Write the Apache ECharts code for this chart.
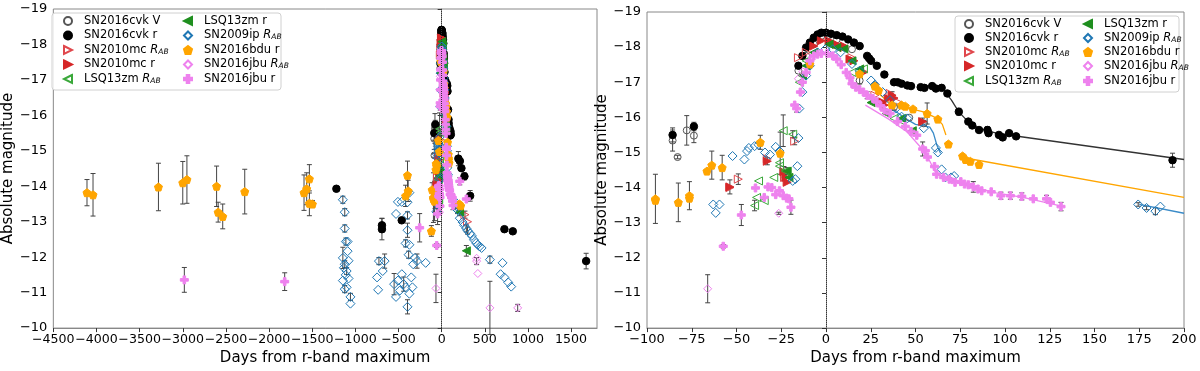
<!DOCTYPE html>
<html>
<head>
<meta charset="utf-8">
<script src="https://cdn.jsdelivr.net/npm/echarts@6/dist/echarts.min.js"></script>
<style>html,body{margin:0;padding:0;background:#fff}#main{width:1200px;height:371px}</style>
</head>
<body>
<div id="main"></div>
<script>
// 数据格式: [距 r 波段极大的天数, 绝对星等, 误差]
var cvkV = [[-85.7,-15.34,0.3],[-82.9,-14.87,0.05],[-77.8,-15.63,0.42],[-73.8,-15.48,0.2],
	[-15.4,-17.33,0],[-11.1,-17.75,0],[-6.8,-18.08,0],[-2.6,-18.32,0],[1.7,-18.34,0],[6,-18.22,0],
	[14.5,-17.94,0],[18.8,-17.05,0.1],[27.3,-16.91,0],[38,-16.3,0.1],[46.5,-15.99,0],[54.6,-15.83,0]];
var cvkR = [[-1220,-13.93,0.05],[-692,-12.9,0.2],[-692,-12.79,0.3],[-463,-13.04,0.05],
	[-85.7,-15.5,0.2],[-73.8,-15.74,0.12],
	[-15.4,-17.47,0],[-13.2,-17.75,0],[-11.1,-17.99,0],[-9,-18.13,0],[-6.8,-18.27,0],[-4.7,-18.36,0],
	[-2.6,-18.41,0],[0,-18.41,0],[2.8,-18.38,0],[6,-18.34,0],[9.2,-18.3,0],[12.4,-18.22,0],[15.6,-18.13,0],
	[18.8,-18.03,0],[23,-17.75,0],[24.1,-17.68,0],[25.2,-17.61,0],[28.4,-17.47,0],[32.6,-17.22,0],
	[38,-17.0,0.05],[40,-17.0,0.05],[42.2,-16.96,0.05],[45.4,-16.91,0],[47.5,-16.89,0],[52.9,-16.86,0],
	[55,-16.84,0],[59.3,-16.89,0],[61.4,-16.82,0],[64.6,-16.84,0],[67.8,-16.68,0],[74.2,-16.16,0.1],
	[79.5,-15.88,0],[81.7,-15.77,0],[85.5,-15.64,0],[90.2,-15.64,0.1],[90.8,-15.55,0],[96.6,-15.5,0],
	[98.7,-15.43,0],[102.3,-15.55,0],[106.2,-15.46,0],[193.6,-14.78,0.2],
	[211,-14.71,0],[229,-14.51,0],[264,-14.28,0.1],[330,-13.73,0.15],[727,-12.79,0],[824,-12.73,0],[1674,-11.89,0.22]];
var mcRAB = [[-53.7,-14.0,0],[-49,-14.24,0.15],[-32.8,-14.82,0],[-17.5,-15.32,0.1],[-23.2,-14.29,0],
	[-15.4,-17.7,0],[-11,-17.85,0],[3.8,-18.13,0],[10.2,-17.99,0],[14.5,-17.7,0],[20.9,-17.3,0],
	[27.3,-16.63,0],[35.8,-16.68,0],[40,-16.44,0],[270,-13.2,0.1],[300,-13.0,0]];
var mcR = [[-53.7,-14.02,0.2],[-32.8,-14.75,0.1],[-23.5,-14.45,0.15],[-22.4,-14.29,0.1],[-21.7,-14.15,0],
	[-6.8,-18.03,0],[-2.6,-18.18,0],[1.7,-18.18,0],[6,-18.08,0],[10.2,-18.03,0],[13.4,-17.66,0],
	[15.6,-17.61,0],[20.9,-17.28,0],[31.6,-16.44,0],[32.6,-16.35,0.1],[34.8,-16.54,0],[36.9,-16.63,0.1],
	[38,-16.55,0],[54,-15.88,0.1]];
var lsqRAB = [[-39.9,-13.49,0.15],[-38.8,-13.72,0],[-37.7,-14.19,0],[-34.5,-13.63,0],[-29.2,-14.29,0],
	[-26,-14.61,0],[-26,-14.71,0],[-23.9,-15.62,0.45],[-22.8,-14.47,0],[-18.6,-15.52,0.1],
	[-14.9,-17.0,0],[-13.2,-17.19,0],[-11.1,-17.61,0],[14.5,-17.28,0],[20.9,-17.38,0],[38,-15.97,0],[42,-15.9,0]];
var lsqR = [[-21.7,-14.47,0.1],[-20.7,-14.29,0],[-13.2,-17.19,0],[-11.1,-17.47,0],[-6.8,-17.85,0],
	[1.7,-18.08,0],[6,-17.99,0],[10,-17.95,0],[14.5,-17.61,0],[18.8,-17.38,0],[25.2,-16.42,0],
	[33.7,-16.11,0],[42.2,-15.97,0],[48.2,-15.62,0],[207,-13.27,0.1],[286,-12.18,0.15]];
var ipRAB = [[-1145,-13.62,0.1],[-1123,-13.27,0.1],[-1123,-12.81,0.1],[-1110,-12.44,0.1],[-1090,-12.44,0],
	[-1090,-12.17,0],[-1145,-11.98,0.3],[-1079,-11.9,0],[-1123,-11.8,0.1],[-1101,-11.61,0.1],[-1112,-11.5,0],
	[-1145,-11.34,0],[-1079,-11.4,0],[-1123,-11.1,0.1],[-1101,-11.15,0],[-1057,-10.88,0.1],[-1057,-10.69,0],
	[-1133,-11.7,0],[-749,-11.43,0],[-736,-11.08,0],[-727,-11.89,0.1],[-661,-11.89,0.2],[-683,-11.61,0],
	[-529,-13.22,0],[-507,-13.56,0],[-463,-13.56,0],[-396,-13.18,0.1],[-396,-12.76,0.2],[-418,-12.39,0.1],
	[-374,-12.35,0],[-383,-12.07,0.1],[-551,-11.24,0.3],[-529,-10.88,0],[-485,-11.06,0],[-440,-11.24,0.2],
	[-396,-10.6,0.2],[-374,-10.97,0],[-339,-11.15,0],[-330,-11.8,0],[-308,-11.98,0],[-286,-11.89,0.2],
	[-352,-11.43,0],[-462,-11.52,0],[-418,-11.15,0],[-507,-11.34,0],[-374,-13.82,0],[-396,-13.55,0],[-185,-11.84,0],
	[-61.6,-13.28,0],[-59.5,-13.52,0],[-63,-13.52,0],[-52.2,-14.9,0],[-45.6,-14.8,0],[-44.1,-15.04,0],
	[-43.1,-15.13,0],[-39.9,-15.18,0],[-37.7,-15.22,0],[-34.1,-15.0,0],[-31.3,-14.94,0],[-28.1,-15.16,0],
	[-26,-15.04,0],[-18.6,-14.19,0],[-16,-14.61,0],[-15.4,-15.41,0],[-17.1,-14.24,0],[-14.9,-16.25,0],
	[-13.2,-16.72,0],[-11.1,-17.19,0],[-9,-17.47,0],[-4.7,-17.85,0],[-0.4,-17.94,0],[3.8,-17.94,0],
	[8.1,-17.85,0],[14.5,-17.52,0],[18.8,-17.33,0],[25.2,-17.05,0],[27.3,-16.93,0],[31.6,-16.72,0],
	[35.8,-16.49,0],[39,-16.25,0],[42.2,-16.02,0],[45.4,-15.97,0],[54.6,-15.69,0],[61.4,-15.13,0],
	[62.5,-15.0,0],[64.6,-14.52,0],[66.7,-14.29,0],[69.9,-14.29,0],[71.6,-14.33,0],
	[174.4,-13.52,0.05],[179.1,-13.42,0.05],[184,-13.33,0.1],[186.8,-13.46,0],
	[210,-13.1,0],[242,-12.99,0],[260,-12.9,0],[286,-12.81,0.1],[300,-12.75,0.1],[330,-12.67,0],
	[350,-12.6,0],[374,-12.49,0],[400,-12.4,0],[419,-12.35,0],[440,-12.3,0],[463,-12.26,0],[559,-11.93,0.1],
	[705,-11.84,0],[683,-11.52,0],[727,-11.43,0],[771,-11.29,0],[806,-11.17,0]];
var bduR = [[-4110,-13.82,0.37],[-4040,-13.76,0.6],[-3282,-13.98,0.67],[-3000,-14.1,0.6],[-2952,-14.19,0.67],
	[-2608,-14.0,0.57],[-2590,-13.27,0.28],[-2537,-13.15,0.35],[-2282,-13.85,0.63],[-1595,-13.82,0.5],
	[-1564,-13.93,0.45],[-1533,-14.21,0.4],[-1533,-13.52,0.35],[-1498,-13.5,0.1],[-396,-14.31,0.4],
	[-418,-13.73,0.3],[-388,-13.87,0.3],[-119,-12.74,0.15],[-110,-13.9,0.2],
	[-95.3,-13.68,0.7],[-95.3,-13.64,0],[-82.5,-13.58,0.55],[-76.3,-13.77,0.4],[-76.3,-13.7,0],
	[-66.5,-14.47,0.05],[-63.8,-14.64,0.4],[-58,-14.57,0.35],[-36.7,-15.29,0.2],[-25.6,-14.98,0.6],
	[-9,-17.52,0],[18.8,-17.24,0],[27.3,-16.89,0],[29.4,-16.77,0],[36.9,-16.35,0],[42.2,-16.35,0],
	[44.3,-16.32,0],[48.6,-16.24,0],[56.5,-16.11,0.3],[62.5,-15.95,0],[68.4,-15.24,0],[76.3,-14.9,0],
	[78,-14.8,0],[80.6,-14.75,0],[85.5,-14.66,0.05],[205,-13.5,0],[220,-13.45,0]];
var jbuRAB = [[-66.1,-11.12,0.4],[-26.4,-13.27,0.03],[-15.4,-17.1,0],[-13,-17.3,0],
	[405,-11.89,0.1],[405,-11.97,0],[419,-11.54,0],[559,-10.57,0.75],[881,-10.57,0.1]];
var jbuR = [[-2982,-11.36,0.35],[-1819,-11.31,0.25],[-255,-12.83,0.4],
	[-57.4,-12.33,0.05],[-47.3,-13.22,0.3],[-39.4,-13.99,0],[-34.5,-13.72,0],[-32.4,-14.02,0],
	[-30.3,-14.0,0],[-28.1,-13.8,0],[-26,-13.91,0],[-23.9,-13.77,0],[-22,-13.7,0],[-20.7,-13.68,0],
	[-19.6,-13.44,0.2],[-17.5,-16.35,0],[-16.4,-16.25,0.1],[-14.3,-16.72,0],[-13.2,-17.0,0],[-11.1,-17.28,0],
	[-9,-17.61,0],[-6.8,-17.75,0],[-4.7,-17.8,0],[-2.6,-17.82,0],[0.6,-17.82,0],[3.8,-17.75,0],[6,-17.66,0],
	[8.5,-17.5,0],[11.3,-17.28,0],[13.4,-17.13,0],[14.5,-16.96,0],[16.6,-16.86,0],[18.8,-16.79,0],
	[20.9,-16.72,0],[23,-16.63,0.1],[26.2,-16.54,0],[28.4,-16.44,0],[30.5,-16.33,0],[32.6,-16.21,0],
	[35.8,-16.11,0],[40,-15.88,0],[44.3,-15.74,0],[47.5,-15.6,0],[50.7,-15.49,0],[54,-15.1,0.2],
	[55.5,-15.05,0],[56.7,-14.87,0],[60.6,-14.6,0],[61.8,-14.38,0],[65.7,-14.29,0],[68.9,-14.24,0],
	[72.1,-14.15,0],[75.3,-14.17,0],[77.4,-14.1,0],[79.5,-14.08,0],[82.3,-14.02,0.15],[84.9,-13.96,0],
	[87,-13.91,0],[92.3,-13.88,0],[97.7,-13.77,0.1],[103,-13.77,0.1],[109.4,-13.75,0.1],[115.8,-13.68,0],
	[123.2,-13.68,0.1],[125.4,-13.58,0],[131.3,-13.46,0.12],[210,-14.14,0.1],[286,-13.64,0]];

// 拟合曲线（仅右图），'-' 表示断开
var cvkFit = [[66,-16.75],[70,-16.5],[74,-16.17],[78,-15.95],[85,-15.7],[95,-15.55],[106,-15.47],[200,-14.8]];
var bduFit = [[30,-16.65],[37,-16.35],[45,-16.28],[55,-16.15],[62,-15.97],[65,-15.8],[67,-15.5],'-',[77,-14.85],[200,-13.72]];
var ipFit = [[38,-16.2],[45,-15.95],[50,-15.8],[55,-15.75],[58,-15.72],[60,-15.55],[62,-15.2],[64,-14.98],'-',[175,-13.52],[200,-13.27]];
var jbuFit = [[22,-16.35],[35,-15.95],[45,-15.6],[52,-15.2],[57,-14.85],[61,-14.45],[66,-14.3],[80,-14.05],[95,-13.85],[110,-13.72],[131,-13.48]];

var xTicksLeft = [-4500,-4000,-3500,-3000,-2500,-2000,-1500,-1000,-500,0,500,1000,1500];

var FONT = 'DejaVu Sans';
var TRANS = 'rgba(255,255,255,0)';
var P_RIGHT = 'path://M0,0 L10,5 L0,10 Z';
var P_LEFT = 'path://M10,0 L0,5 L10,10 Z';
var P_PENT = 'path://M5,0 L10,3.8 L8.1,10 L1.9,10 L0,3.8 Z';
var P_PLUS = 'path://M3.4,0 H6.6 V3.4 H10 V6.6 H6.6 V10 H3.4 V6.6 H0 V3.4 H3.4 Z';

// 各数据集样式
var sets = [
	{name: 'SN2016cvk V', data: cvkV, symbol: 'circle', size: 7, fill: TRANS, stroke: '#555'},
	{name: 'SN2016cvk r', data: cvkR, symbol: 'circle', size: 7.5, fill: '#000', stroke: '#000'},
	{name: 'SN2010mc R_AB', data: mcRAB, symbol: P_RIGHT, size: 8, fill: TRANS, stroke: '#e0474c'},
	{name: 'SN2010mc r', data: mcR, symbol: P_RIGHT, size: 8, fill: '#d62728', stroke: '#d62728'},
	{name: 'LSQ13zm R_AB', data: lsqRAB, symbol: P_LEFT, size: 8, fill: TRANS, stroke: '#3aa83a'},
	{name: 'LSQ13zm r', data: lsqR, symbol: P_LEFT, size: 8, fill: '#1f8f1f', stroke: '#1f8f1f'},
	{name: 'SN2009ip R_AB', data: ipRAB, symbol: 'diamond', size: 9, fill: TRANS, stroke: '#1f77b4'},
	{name: 'SN2016bdu r', data: bduR, symbol: P_PENT, size: 8, fill: '#ffa500', stroke: '#ffa500'},
	{name: 'SN2016jbu R_AB', data: jbuRAB, symbol: 'diamond', size: 8, fill: TRANS, stroke: '#ee82ee'},
	{name: 'SN2016jbu r', data: jbuR, symbol: P_PLUS, size: 8, fill: '#ee82ee', stroke: '#ee82ee'}
];

function fmtNum(v) {
	return (v < 0 ? '\u2212' : '') + Math.abs(v);
}

function inRight(d) {
	return d[0] >= -100 && d[0] <= 200;
}

function $each(arr, fn) { for (var i = 0; i < arr.length; i++) fn(arr[i], i); }

function makeScatter(s, idx) {
	var rows = idx == 1 ? s.data.filter(inRight) : s.data;
	return {
		name: s.name, type: 'scatter', xAxisIndex: idx, yAxisIndex: idx,
		data: rows.map(function(d) { return [d[0], d[1]]; }),
		symbol: s.symbol, symbolSize: s.size,
		itemStyle: {color: s.fill, borderColor: s.stroke, borderWidth: 1, opacity: 1},
		emphasis: {disabled: true}, z: 3
	};
}

// 误差棒
function makeErr(idx) {
	var rows = [];
	$each(sets, function(s) {
		s.data.forEach(function(d) {
			if (d[2] > 0 && (idx == 0 || inRight(d))) rows.push(d);
		});
	});
	return {
		type: 'custom', xAxisIndex: idx, yAxisIndex: idx, silent: true, z: 2,
		encode: {x: 0, y: 1}, data: rows,
		renderItem: function(params, api) {
			var x = api.value(0), y = api.value(1), e = api.value(2);
			var p1 = api.coord([x, y - e]), p2 = api.coord([x, y + e]);
			var c = 2.5, st = {stroke: '#444', lineWidth: 1};
			return {type: 'group', children: [
				{type: 'line', shape: {x1: p1[0], y1: p1[1], x2: p2[0], y2: p2[1]}, style: st},
				{type: 'line', shape: {x1: p1[0] - c, y1: p1[1], x2: p1[0] + c, y2: p1[1]}, style: st},
				{type: 'line', shape: {x1: p2[0] - c, y1: p2[1], x2: p2[0] + c, y2: p2[1]}, style: st}
			]};
		}
	};
}

function makeFit(name, data, color) {
	return {
		name: name, type: 'line', xAxisIndex: 1, yAxisIndex: 1, data: data,
		showSymbol: false, connectNulls: false, silent: true, z: 2.5,
		lineStyle: {color: color, width: 1.3}
	};
}

function makeXAxis(idx, min, max, interval, fs) {
	var ax = {
		type: 'value', gridIndex: idx, min: min, max: max, interval: interval,
		name: 'Days from r-band maximum', nameLocation: 'middle', nameGap: 20,
		nameTextStyle: {fontSize: 15, fontFamily: FONT, color: '#000'},
		axisLine: {show: true, onZero: false, lineStyle: {color: '#888'}},
		axisTick: {show: true, inside: false, length: 4, lineStyle: {color: '#333'}},
		axisLabel: {fontSize: fs, fontFamily: FONT, color: '#000', margin: 5, hideOverlap: false,
			showMinLabel: true, formatter: fmtNum},
		splitLine: {show: false}
	};
	if (idx == 0) {
		ax.axisLabel.customValues = xTicksLeft;
		ax.axisTick.customValues = xTicksLeft;
	}
	return ax;
}

function makeYAxis(idx, gap) {
	return {
		type: 'value', gridIndex: idx, min: -19, max: -10, interval: 1, inverse: true,
		name: 'Absolute magnitude', nameLocation: 'middle', nameGap: gap,
		nameTextStyle: {fontSize: 15, fontFamily: FONT, color: '#000'},
		axisLine: {show: true, lineStyle: {color: '#888'}},
		axisTick: {show: true, inside: false, length: 4, lineStyle: {color: '#333'}},
		axisLabel: {fontSize: 13, fontFamily: FONT, color: '#000', margin: 6, formatter: fmtNum},
		splitLine: {show: false}
	};
}

function legendFmt(name) {
	if (name.indexOf(' R_AB') > -1) return name.replace(' R_AB', ' ') + '{i|R}{s|AB}';
	return name;
}

// 图例：每项单独定位，排成两列（传入的是图标中心 x）
function makeLegends(col1, col2, rows) {
	var out = [];
	$each(sets, function(s, i) {
		var col = i < 5 ? col1 : col2;
		out.push({
			data: [s.name], left: col - 4, top: rows[i % 5] - 7, padding: 0,
			itemWidth: 8, itemHeight: 8, selectedMode: false, formatter: legendFmt,
			textStyle: {fontSize: 11.5, fontFamily: FONT, color: '#000', padding: [0, 0, 0, 7],
				rich: {
					i: {fontSize: 11.5, fontFamily: FONT, fontStyle: 'italic', color: '#000'},
					s: {fontSize: 7.5, fontFamily: FONT, fontStyle: 'italic', color: '#000', verticalAlign: 'bottom', lineHeight: 8}
				}}
		});
	});
	return out;
}

var series = [makeErr(0), makeErr(1),
	makeFit('fit cvk', cvkFit, '#333'),
	makeFit('fit bdu', bduFit, '#ffa500'),
	makeFit('fit ip', ipFit, '#3a8bc8'),
	makeFit('fit jbu', jbuFit, '#ee82ee')];
$each(sets, function(s) { series.push(makeScatter(s, 0)); });
$each(sets, function(s) { series.push(makeScatter(s, 1)); });

// 零点虚线
var zeroLine = {silent: true, symbol: ['none', 'none'], label: {show: false},
	lineStyle: {type: 'dotted', color: '#333', width: 1}, data: [{xAxis: 0}]};
series[6].markLine = zeroLine;
series[16].markLine = zeroLine;

var chart = echarts.init(document.getElementById('main'));
chart.setOption({
	animation: false,
	backgroundColor: '#fff',
	grid: [
		{left: 46, right: 603, top: 9, bottom: 37, show: true, borderColor: '#888', borderWidth: 1, backgroundColor: 'transparent'},
		{left: 647, right: 16, top: 12, bottom: 38, show: true, borderColor: '#888', borderWidth: 1, backgroundColor: 'transparent'}
	],
	xAxis: [makeXAxis(0, -4500, 1800, 500, 12.6), makeXAxis(1, -100, 200, 25, 13)],
	yAxis: [makeYAxis(0, 26), makeYAxis(1, 22)],
	legend: makeLegends(67, 187, [22, 36.5, 51, 65.5, 80]).concat(makeLegends(968, 1087, [25, 39, 53, 67, 82])),
	graphic: [
		{type: 'rect', z: 3, shape: {x: 52, y: 13, width: 229, height: 77, r: 3}, style: {fill: 'rgba(255,255,255,0.85)', stroke: '#d0d0d0', lineWidth: 1}},
		{type: 'rect', z: 3, shape: {x: 955, y: 16, width: 224, height: 76, r: 3}, style: {fill: 'rgba(255,255,255,0.85)', stroke: '#d0d0d0', lineWidth: 1}}
	],
	series: series
});
</script>
</body>
</html>
